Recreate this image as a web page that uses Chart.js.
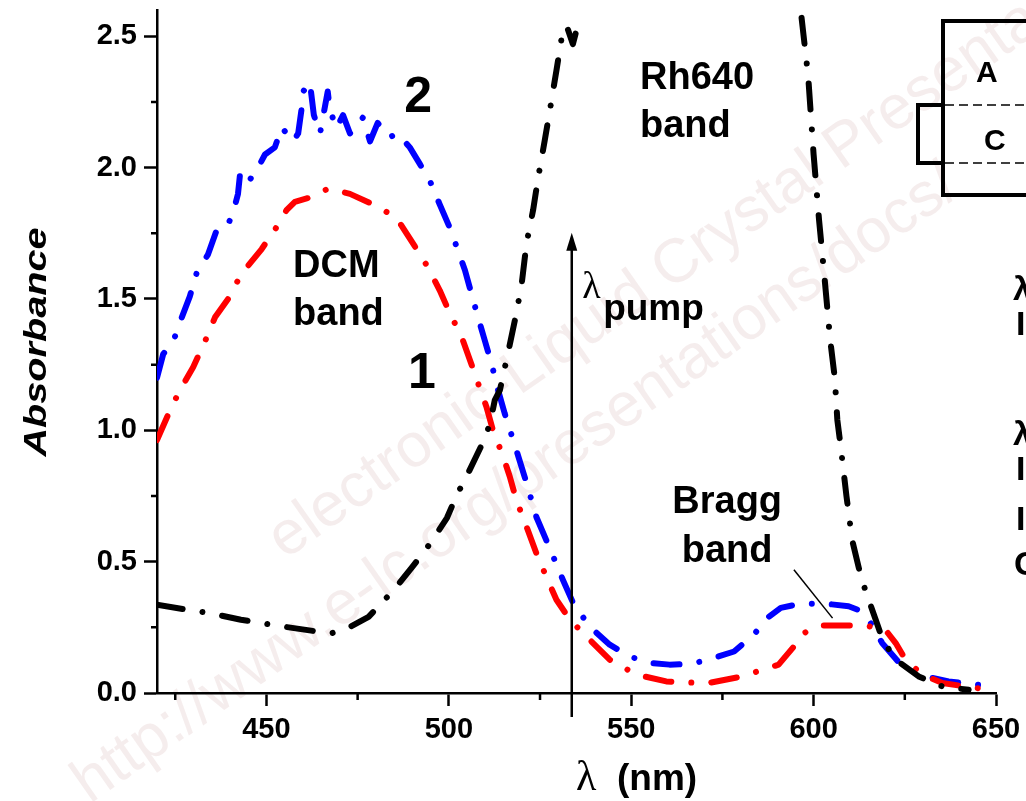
<!DOCTYPE html>
<html>
<head>
<meta charset="utf-8">
<script src="https://cdn.jsdelivr.net/npm/chart.js@4/dist/chart.umd.min.js"></script>
<style>
  html, body { margin: 0; padding: 0; background: #fff; }
  canvas { display: block; }
</style>
</head>
<body>
<canvas id="myChart" width="1026" height="801"></canvas>
<script>
(function() {
    'use strict';

    // axis ticks
    const xTicks = [450, 500, 550, 600, 650];
    const xMinorTicks = [425, 475, 525, 575, 625];
    const yTicks = [0, 0.5, 1.0, 1.5, 2.0, 2.5];
    const yMinorTicks = [0.25, 0.75, 1.25, 1.75, 2.25];

    // Rh640 band (black), null = off scale / not recorded
    const rhWl  = [420, 427, 434, 443, 453, 464, 468, 473, 478, 485, 490, 495, 499.5, 502, 505.3, 509, 511.2, 512.6, 514, 516.2, 518.5, 520, 521.3, 523.1, 524.5, 526.3, 527.7, 529.5, 531, 532.3, 534, 535.5,
                   565,
                   596.7, 598.5, 600, 601.5, 603, 604.5, 605.8, 606.5, 607.5, 609, 610.6, 612.5, 614.2, 617, 619, 622.5, 628.8, 635.3, 642.5];
    const rhAbs = [0.336, 0.32, 0.305, 0.279, 0.256, 0.234, 0.228, 0.252, 0.29, 0.393, 0.48, 0.571, 0.667, 0.748, 0.837, 0.944, 1.02, 1.115, 1.153, 1.293, 1.445, 1.56, 1.712, 1.838, 1.963, 2.104, 2.218, 2.37, 2.5, 2.54, 2.47, 2.55,
                   null,
                   2.57, 2.35, 2.05, 1.8, 1.58, 1.35, 1.2, 1.04, 0.93, 0.75, 0.58, 0.47, 0.39, 0.28, 0.2, 0.127, 0.063, 0.025, 0.012];

    // curve 1 (red)
    const s1Wl  = [420, 423.6, 426.3, 429.9, 433.2, 435.9, 440, 442.7, 444.6, 448.7, 452.8, 455.5, 457.8, 462.4, 466.9, 471, 472.9, 479.7, 485.6, 488.4, 490.7, 494.3, 497.5, 500.3, 503.5, 505.8, 508, 510.3, 512.1, 514.9, 516.7, 518.5, 521.3, 524, 526.7, 529.5, 533.2, 538.6, 544.1, 551.4, 559.6, 565, 571.2, 580.4, 590.4, 594.6, 597, 600.6, 602.4, 607.8, 614.2, 619.7, 622.5, 625.2, 629.8, 635.3, 644.4, 649.3];
    const s1Abs = [0.963, 1.077, 1.153, 1.24, 1.34, 1.43, 1.51, 1.585, 1.62, 1.69, 1.774, 1.838, 1.87, 1.888, 1.92, 1.907, 1.9, 1.857, 1.81, 1.75, 1.7, 1.62, 1.533, 1.445, 1.356, 1.267, 1.18, 1.09, 1.0, 0.9, 0.824, 0.735, 0.633, 0.532, 0.443, 0.355, 0.279, 0.203, 0.127, 0.07, 0.044, 0.04, 0.038, 0.063, 0.108, 0.177, 0.225, 0.253, 0.257, 0.257, 0.257, 0.24, 0.19, 0.127, 0.07, 0.038, 0.019, 0.015];

    // curve 2 (blue)
    const s2Wl  = [420, 421.7, 424.5, 426.8, 429, 430.9, 434, 436.3, 439, 440.8, 442.2, 442.8, 445, 447.3, 449.6, 452.3, 454.2, 457.3, 458.7, 459.6, 460.1, 461.9, 463, 464.7, 466.8, 467.4, 469.2, 471, 472.9, 476.4, 478.4, 480.5, 483.8, 486, 489.3, 492, 494.8, 497.5, 500.3, 502.5, 504.4, 506.2, 508, 509.9, 511.7, 513.5, 515.3, 518.5, 521.3, 524, 526.3, 528.6, 531.3, 534.1, 538.6, 544.1, 549.6, 555.1, 560.5, 566, 571.2, 578.2, 583.6, 587.7, 591, 596.4, 603.3, 609.6, 612.5, 615.1, 618.8, 624.3, 630.7, 637, 644.4, 649.3];
    const s2Abs = [1.2, 1.29, 1.34, 1.43, 1.51, 1.6, 1.67, 1.76, 1.77, 1.825, 1.9, 1.98, 1.945, 1.99, 2.05, 2.077, 2.153, 2.1, 2.13, 2.22, 2.29, 2.325, 2.2, 2.13, 2.29, 2.22, 2.15, 2.2, 2.13, 2.19, 2.1, 2.17, 2.116, 2.13, 2.077, 2.015, 1.95, 1.86, 1.77, 1.685, 1.61, 1.52, 1.43, 1.34, 1.254, 1.153, 1.065, 0.925, 0.8, 0.67, 0.595, 0.52, 0.43, 0.342, 0.253, 0.184, 0.139, 0.114, 0.108, 0.11, 0.127, 0.158, 0.222, 0.29, 0.324, 0.34, 0.34, 0.33, 0.315, 0.279, 0.19, 0.101, 0.063, 0.044, 0.032, 0.025];

    const pumpWl = 533.7;

    const SANS = "'Liberation Sans', Arial, sans-serif";
    const SERIF = "'Liberation Serif', 'Times New Roman', serif";

    const toPts = (xs, ys) => xs.map((x, i) => ({ x: x, y: ys[i] }));
    const dashDot = [26, 20, 0.01, 20];

    const lineSet = (label, xs, ys, color) => ({
        label: label,
        data: toPts(xs, ys),
        borderColor: color,
        borderWidth: 6,
        borderDash: dashDot,
        borderCapStyle: 'round',
        borderJoinStyle: 'round',
        pointRadius: 0,
        tension: 0,
        spanGaps: false,
        fill: false
    });

    function text(ctx, s, x, y, font, align) {
        ctx.font = font;
        ctx.textAlign = align || 'left';
        ctx.textBaseline = 'alphabetic';
        ctx.fillText(s, x, y);
    }

    const decor = {
        id: 'decor',
        beforeDraw(chart) {
            const ctx = chart.ctx;
            ctx.save();
            ctx.fillStyle = 'rgba(170,110,110,0.12)';
            ctx.font = '62px ' + SANS;
            ctx.textBaseline = 'alphabetic';
            ctx.translate(285, 560);
            ctx.rotate(-35 * Math.PI / 180);
            ctx.fillText('electronic-Liquid Crystal Presentations', 0, 0);
            ctx.fillText('http://www.e-lc.org/presentations/docs/', -300, 88);
            ctx.restore();
        },
        afterDraw(chart) {
            const ctx = chart.ctx;
            const xs = chart.scales.x, ys = chart.scales.y;
            const X = v => xs.getPixelForValue(v), Y = v => ys.getPixelForValue(v);
            const area = chart.chartArea;
            ctx.save();
            ctx.strokeStyle = '#000';
            ctx.fillStyle = '#000';

            // minor ticks
            ctx.lineWidth = 2.5;
            ctx.beginPath();
            xMinorTicks.forEach(v => { ctx.moveTo(X(v), area.bottom); ctx.lineTo(X(v), area.bottom + 7); });
            yMinorTicks.forEach(v => { ctx.moveTo(area.left, Y(v)); ctx.lineTo(area.left - 6, Y(v)); });
            ctx.stroke();

            // pump arrow
            const ax = X(pumpWl);
            ctx.lineWidth = 2.5;
            ctx.beginPath();
            ctx.moveTo(ax, area.bottom + 24);
            ctx.lineTo(ax, Y(1.752) + 12);
            ctx.stroke();
            ctx.beginPath();
            ctx.moveTo(ax, Y(1.752));
            ctx.lineTo(ax - 5.5, Y(1.752) + 18);
            ctx.lineTo(ax + 5.5, Y(1.752) + 18);
            ctx.closePath();
            ctx.fill();

            // labels
            const big = 'bold 38px ' + SANS;
            text(ctx, '2', X(491.6), Y(2.212), 'bold 50px ' + SANS, 'center');
            text(ctx, '1', X(492.6), Y(1.161), 'bold 50px ' + SANS, 'center');
            text(ctx, 'DCM', X(457.3), Y(1.585), big);
            text(ctx, 'band', X(457.3), Y(1.401), big);
            text(ctx, 'Rh640', X(552.4), Y(2.30), big);
            text(ctx, 'band', X(552.4), Y(2.116), big);
            text(ctx, 'Bragg', X(576.3), Y(0.685), big, 'center');
            text(ctx, 'band', X(576.3), Y(0.50), big, 'center');
            text(ctx, '\u03bb', X(536.6), Y(1.504), '38px ' + SERIF);
            text(ctx, 'pump', X(542.3), Y(1.42), 'bold 37px ' + SANS);

            // Bragg leader line
            ctx.lineWidth = 1.5;
            ctx.beginPath();
            ctx.moveTo(X(594.6), Y(0.469));
            ctx.lineTo(X(605.2), Y(0.285));
            ctx.stroke();

            // axis titles
            text(ctx, '\u03bb', 576, 790, '42px ' + SERIF);
            text(ctx, '(nm)', 617, 790, 'bold 37px ' + SANS);
            ctx.save();
            ctx.translate(46, 342);
            ctx.rotate(-Math.PI / 2);
            ctx.font = 'italic bold 32px ' + SANS;
            const w = ctx.measureText('Absorbance').width;
            ctx.scale(229 / w, 1);
            ctx.textAlign = 'center';
            ctx.fillText('Absorbance', 0, 0);
            ctx.restore();

            // inset cell sketch (cut at the right edge)
            ctx.lineWidth = 4;
            ctx.beginPath();
            ctx.moveTo(1030, 21);
            ctx.lineTo(943, 21);
            ctx.lineTo(943, 195);
            ctx.lineTo(1030, 195);
            ctx.stroke();
            ctx.beginPath();
            ctx.moveTo(943, 105);
            ctx.lineTo(918, 105);
            ctx.lineTo(918, 163);
            ctx.lineTo(943, 163);
            ctx.stroke();
            ctx.lineWidth = 1.5;
            ctx.setLineDash([9, 5]);
            ctx.beginPath();
            ctx.moveTo(945, 105); ctx.lineTo(1030, 105);
            ctx.moveTo(945, 163); ctx.lineTo(1030, 163);
            ctx.stroke();
            ctx.setLineDash([]);
            text(ctx, 'A', 976, 82, 'bold 30px ' + SANS);
            text(ctx, 'C', 984, 150, 'bold 30px ' + SANS);

            // slide text cut at the right edge
            const side = 'bold 34px ' + SANS;
            text(ctx, '\u03bb', 1013, 300, side);
            text(ctx, 'I', 1016, 335, side);
            text(ctx, '\u03bb', 1013, 445, side);
            text(ctx, 'I', 1016, 480, side);
            text(ctx, 'I', 1016, 530, side);
            text(ctx, 'C', 1014, 575, side);
            ctx.restore();
        }
    };

    const tickFont = { family: SANS, size: 29, weight: 'bold' };

    const ctx = document.getElementById('myChart');

    new Chart(ctx, {
        type: 'line',
        data: {
            datasets: [
                lineSet('Rh640', rhWl, rhAbs, '#000000'),
                lineSet('1', s1Wl, s1Abs, '#ff0000'),
                lineSet('2', s2Wl, s2Abs, '#0000ff')
            ]
        },
        options: {
            responsive: false,
            devicePixelRatio: 1,
            animation: false,
            layout: { padding: { top: 10, right: 30, left: 0, bottom: 0 } },
            plugins: {
                legend: { display: false },
                tooltip: { enabled: false }
            },
            scales: {
                x: {
                    type: 'linear',
                    min: 420,
                    max: 650,
                    afterBuildTicks: s => { s.ticks = xTicks.map(v => ({ value: v })); },
                    afterFit: s => { s.height = 108; s.paddingLeft = 0; s.paddingRight = 0; },
                    grid: { drawOnChartArea: false, drawTicks: true, tickLength: 13, tickWidth: 2.5, tickColor: '#000' },
                    border: { display: true, color: '#000', width: 2.5 },
                    ticks: { color: '#000', font: tickFont, padding: 7, maxRotation: 0, autoSkip: false }
                },
                y: {
                    type: 'linear',
                    min: 0,
                    max: 2.6,
                    afterBuildTicks: s => { s.ticks = yTicks.map(v => ({ value: v })); },
                    afterFit: s => { s.width = 157; s.paddingTop = 0; s.paddingBottom = 0; },
                    grid: { drawOnChartArea: false, drawTicks: true, tickLength: 13, tickWidth: 2.5, tickColor: '#000' },
                    border: { display: true, color: '#000', width: 2.5 },
                    ticks: { color: '#000', font: tickFont, padding: 7, autoSkip: false, callback: v => v.toFixed(1) }
                }
            }
        },
        plugins: [decor]
    });

})();
</script>
</body>
</html>
